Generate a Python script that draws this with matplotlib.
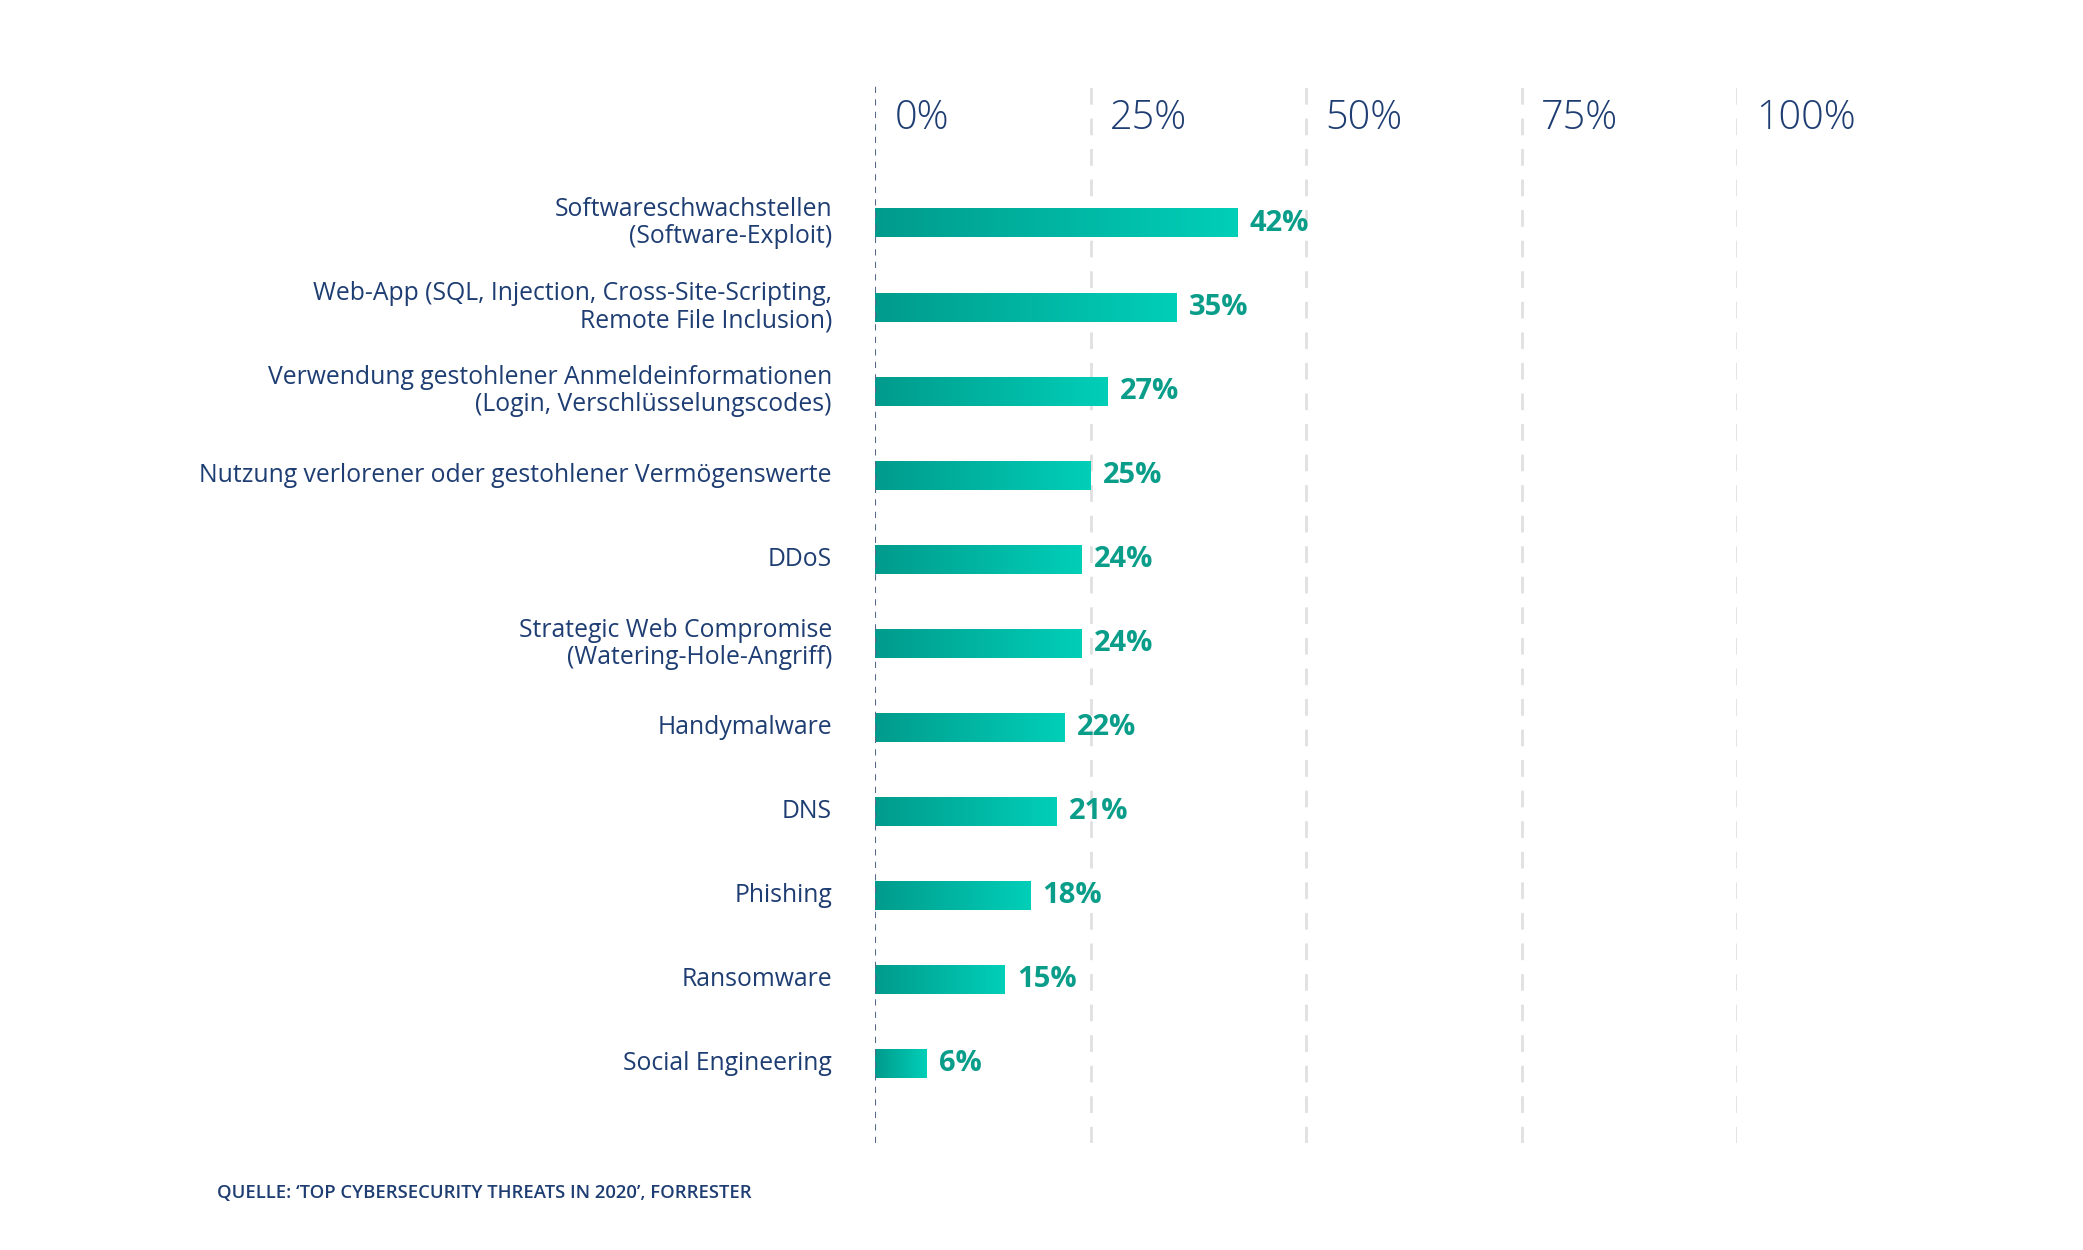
import numpy as np
import matplotlib.pyplot as plt
from matplotlib.colors import LinearSegmentedColormap

categories = [
    "Softwareschwachstellen\n(Software-Exploit)",
    "Web-App (SQL, Injection, Cross-Site-Scripting,\nRemote File Inclusion)",
    "Verwendung gestohlener Anmeldeinformationen\n(Login, Verschlüsselungscodes)",
    "Nutzung verlorener oder gestohlener Vermögenswerte",
    "DDoS",
    "Strategic Web Compromise\n(Watering-Hole-Angriff)",
    "Handymalware",
    "DNS",
    "Phishing",
    "Ransomware",
    "Social Engineering",
]
values = [42, 35, 27, 25, 24, 24, 22, 21, 18, 15, 6]
ticks = [0, 25, 50, 75, 100]
tick_labels = ["0%", "25%", "50%", "75%", "100%"]
source = "QUELLE: \u2018TOP CYBERSECURITY THREATS IN 2020\u2019, FORRESTER"

navy = "#1e3d72"
teal_text = "#0a9e8a"
cmap = LinearSegmentedColormap.from_list("teal", ["#009b8c", "#00cfb8"])

plt.rcParams['font.family'] = ['Open Sans', 'DejaVu Sans']

W, H = 2083, 1250
fig = plt.figure(figsize=(W / 100, H / 100), dpi=100)
ax = fig.add_axes([875 / W, 1 - 1143 / H, (1737 - 875) / W, (1143 - 84) / H])

y = np.arange(len(values))
bar_h = 0.34
bars = ax.barh(y, values, height=bar_h, color="none")
grad = np.linspace(0, 1, 256).reshape(1, -1)
for b in bars:
    x0, y0 = b.get_x(), b.get_y()
    ax.imshow(grad, extent=[x0, x0 + b.get_width(), y0, y0 + b.get_height()],
              aspect="auto", cmap=cmap, zorder=2)

ax.set_xlim(0, 100)
ax.set_ylim(10.94, -1.655)

# grid lines
for t in ticks[1:]:
    ax.axvline(t, color="#e0e0e0", lw=2, ls=(0, (6, 5)), zorder=1)
ax.axvline(0, color="#56688c", lw=1.5, ls=(0, (3, 3)), zorder=3)

# top tick labels
for t, lab in zip(ticks, tick_labels):
    ax.annotate(lab, (t, -1.25), xytext=(14, 0), textcoords="offset points",
                ha="left", va="center", fontsize=28.5, color=navy,
                fontweight="light", annotation_clip=False)

# category labels and values
for yi, cat, v in zip(y, categories, values):
    ax.annotate(cat, (0, yi), xytext=(-31, 0), textcoords="offset points",
                ha="right", va="center", fontsize=17.8, color=navy,
                fontweight="medium", linespacing=1.1, annotation_clip=False)
    ax.annotate(f"{v}%", (v, yi), xytext=(9, 0), textcoords="offset points",
                ha="left", va="center", fontsize=21, color=teal_text,
                fontweight="bold", annotation_clip=False)

ax.axis("off")

fig.text(217 / W, 1 - 1193 / H, source, ha="left", va="center",
         fontsize=13.3, color=navy, fontweight="semibold")

fig.savefig("out.png", dpi=100, facecolor="white")
